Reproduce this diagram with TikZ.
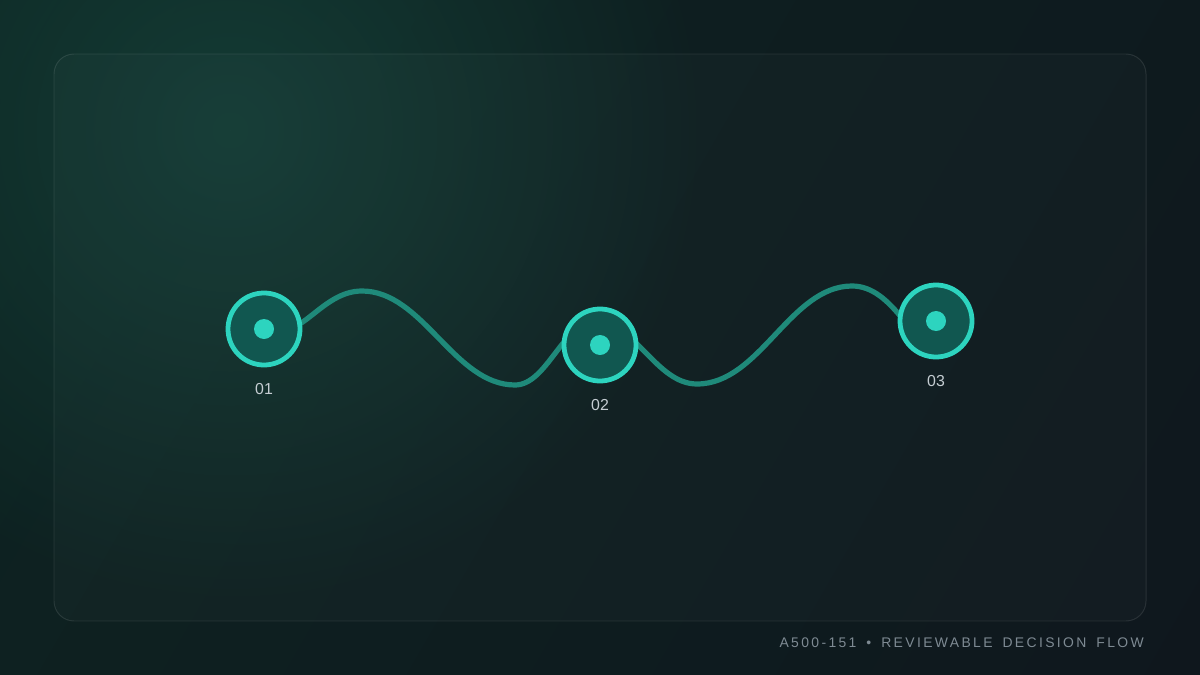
\documentclass[tikz,border=0pt]{standalone}
\usepackage{fontspec}
\setmainfont{Liberation Sans}
\newfontfamily\footfont[LetterSpace=17, WordSpace=1.6]{Liberation Sans}
\usetikzlibrary{fadings}

\definecolor{bgleft}{HTML}{0D2522}
\definecolor{bgright}{HTML}{0F161D}
\definecolor{glow}{HTML}{143C35}
\definecolor{ring}{HTML}{2DD4BF}
\definecolor{disc}{HTML}{115750}
\definecolor{wave}{HTML}{1F8A7A}
\definecolor{lbl}{HTML}{C5CDD2}
\definecolor{foot}{HTML}{7E8A93}

\tikzfading[name=glowfade, inner color=transparent!0, outer color=transparent!100]

\tikzset{
    stepring/.style={circle, draw=ring, fill=disc, line width=3.4pt, minimum size=1.8cm, inner sep=0pt},
    stepdot/.style={circle, fill=ring, minimum size=0.5cm, inner sep=0pt},
    steplabel/.style={text=lbl, font=\fontsize{11.3}{13}\selectfont, inner sep=0pt},
    wavepath/.style={draw=wave, line width=3.7pt, line cap=round}
}

\begin{document}
\begin{tikzpicture}[x=0.025cm, y=-0.025cm]
    \useasboundingbox (0,0) rectangle (1200,675);
    \begin{scope}
        \clip (0,0) rectangle (1200,675);
        \shade[left color=bgleft, right color=bgright, shading angle=60] (-300,-300) rectangle (1500,975);
        \fill[glow, path fading=glowfade] (230,130) circle (12cm);
    \end{scope}

    % panel
    \draw[rounded corners=0.5cm, draw=white, draw opacity=0.1, fill=white, fill opacity=0.02, line width=0.7pt] (54,54) rectangle (1146,621);

    \foreach \i / \x / \y in {1/264/329, 2/600/345, 3/936/321} {
        \coordinate (s_\i) at (\x,\y);
    }

    \draw[wavepath] (s_1) .. controls (300,345) and (320,291) .. (362,291)
        .. controls (423,291) and (454,385) .. (515,385)
        .. controls (547,385) and (563,322) .. (595,322)
        .. controls (636,322) and (656,384) .. (697,384)
        .. controls (760,384) and (790,286) .. (852,286)
        .. controls (872,286) and (888,300) .. (905,322)
        .. controls (915,335) and (930,330) .. (s_3);

    \foreach \i in {1,2,3} {
        \node[stepring] (ring_\i) at (s_\i) {};
        \node[stepdot] (dot_\i) at (ring_\i.center) {};
        \node[steplabel] (lbl_\i) at ([yshift=-1.5cm]ring_\i.center) {0\i};
    }

    \node[anchor=base east, text=foot, inner sep=0pt, font=\footfont\fontsize{9.9}{12}\selectfont] (footer) at (1144,647) {A500-151 \textbullet{} REVIEWABLE DECISION FLOW};
\end{tikzpicture}
\end{document}
